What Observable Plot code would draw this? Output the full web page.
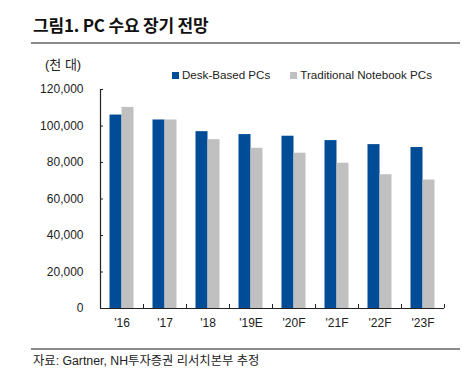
<!DOCTYPE html>
<html>
<head>
<meta charset="utf-8">
<script src="https://cdn.jsdelivr.net/npm/d3@7"></script>
<script src="https://cdn.jsdelivr.net/npm/@observablehq/plot@0.6"></script>
<style>
  body { margin: 0; background: #fff; }
  #wrap { position: relative; width: 470px; height: 388px; overflow: hidden; font-family: "Liberation Sans", Arial, "Noto Sans CJK KR", sans-serif; color: #222; }
  #chart { position: absolute; left: 0; top: 0; }
  .abs { position: absolute; white-space: nowrap; }
  .title { left: 33px; top: 15px; font-family: "Noto Sans CJK KR", sans-serif; font-weight: 700; font-size: 17px; line-height: 19px; color: #111; letter-spacing: -0.2px; }
  .hr { left: 31px; width: 429px; height: 2px; background: #8a8a8a; }
  .unit { left: 45px; top: 57px; font-size: 13px; line-height: 16px; font-family: "Liberation Sans", Arial, "Noto Sans CJK KR", sans-serif; }
  .legend { left: 172px; top: 67px; font-size: 11.6px; line-height: 16px; display: flex; align-items: center; }
  .legend .sw { display: inline-block; width: 7px; height: 7px; margin-right: 3px; }
  .legend .item { display: flex; align-items: center; }
  .caption { left: 33px; top: 353px; font-size: 12.3px; line-height: 16px; font-family: "Liberation Sans", Arial, "Noto Sans CJK KR", sans-serif; }
</style>
</head>
<body>
<div id="wrap">
  <div id="chart"></div>
  <div class="abs title">그림1. PC 수요 장기 전망</div>
  <div class="abs hr" style="top:42px"></div>
  <div class="abs unit">(천 대)</div>
  <div class="abs legend" id="legend"></div>
  <div class="abs hr" style="top:348px"></div>
  <div class="abs caption">자료: Gartner, NH투자증권 리서치본부 추정</div>
</div>
<script>
const years = ["'16", "'17", "'18", "'19E", "'20F", "'21F", "'22F", "'23F"];
const deskBased = [106000, 103300, 96900, 95300, 94400, 92000, 89800, 88200];
const notebook = [110200, 103300, 92500, 87800, 85100, 79600, 73300, 70400];
const seriesNames = ["Desk-Based PCs", "Traditional Notebook PCs"];
const seriesColors = ["#004c97", "#c0c0c0"];
const yTicks = [0, 20000, 40000, 60000, 80000, 100000, 120000];

const rows = years.map((y, i) => ({year: y, desk: deskBased[i], note: notebook[i]}));

const W = 470, H = 388, mL = 100, mR = 26;
const step = (W - mL - mR) / years.length;
const half = step / 2;
const barW = 12;
const tickLen = 120000 * 4 / 219;

const chart = Plot.plot({
  width: W,
  height: H,
  marginLeft: mL,
  marginRight: mR,
  marginTop: 89,
  marginBottom: 80,
  style: {fontFamily: '"Liberation Sans", Arial, sans-serif', fontSize: "12px", color: "#222", background: "transparent"},
  x: {domain: years, padding: 0, label: null},
  y: {domain: [0, 120000], label: null},
  marks: [
    Plot.barY(rows, {x: "year", y: "desk", fill: seriesColors[0], insetLeft: half - barW, insetRight: half}),
    Plot.barY(rows, {x: "year", y: "note", fill: seriesColors[1], insetLeft: half, insetRight: half - barW}),
    Plot.ruleY([0], {stroke: "#222", strokeWidth: 1.2}),
    Plot.ruleX([years[0]], {x: d => d, dx: -half, y1: 0, y2: yTicks[yTicks.length - 1], stroke: "#222", strokeWidth: 1.2}),
    Plot.ruleX(years.slice(1), {x: d => d, dx: -half, y1: 0, y2: tickLen, stroke: "#222"}),
    Plot.ruleX([years[years.length - 1]], {x: d => d, dx: half, y1: 0, y2: tickLen, stroke: "#222"}),
    Plot.axisY({ticks: yTicks, tickSize: 0, tickPadding: 17, tickFormat: d3.format(",")}),
    Plot.axisY({ticks: yTicks, tickSize: 3, dx: 3, tickFormat: () => "", stroke: "#222"}),
    Plot.axisX({tickSize: 0, tickPadding: 10, fontSize: 12})
  ]
});
document.getElementById("chart").appendChild(chart);

const legend = document.getElementById("legend");
seriesNames.forEach((name, i) => {
  const item = document.createElement("span");
  item.className = "item";
  item.style.marginRight = i === 0 ? "20px" : "0";
  const sw = document.createElement("span");
  sw.className = "sw";
  sw.style.background = seriesColors[i];
  item.appendChild(sw);
  item.appendChild(document.createTextNode(name));
  legend.appendChild(item);
});
</script>
</body>
</html>
